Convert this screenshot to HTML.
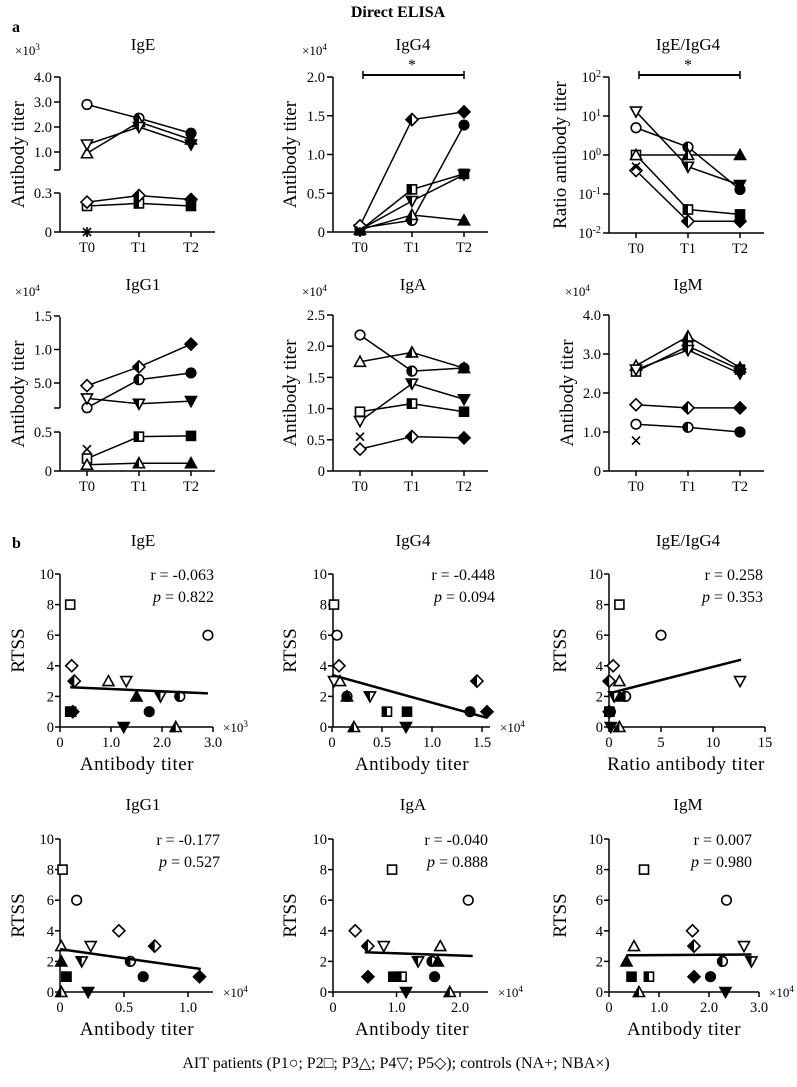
<!DOCTYPE html>
<html><head><meta charset="utf-8"><style>
html,body{margin:0;padding:0;background:#fff}
svg{display:block;font-family:"Liberation Serif",serif}
</style></head><body>
<svg id="fig" width="797" height="1087" viewBox="0 0 797 1087">
<text x="398" y="17" text-anchor="middle" font-weight="bold" font-size="16">Direct ELISA</text>
<text x="12" y="32" font-weight="bold" font-size="16">a</text>
<text x="12" y="548" font-weight="bold" font-size="16">b</text>
<text x="396" y="1068" text-anchor="middle" font-size="16">AIT patients (P1○; P2□; P3△; P4▽; P5◇); controls (NA+; NBA×)</text>
</svg>
<script>
// series order: P1 circle, P2 square, P3 triangle-up, P4 triangle-down, P5 diamond
const timeLabels = ['T0','T1','T2'];
const igeTime   = [[2.9,2.35,1.75],[0.2,0.22,0.2],[0.95,2.2,1.5],[1.3,2.0,1.3],[0.23,0.28,0.25]];
const igg4Time  = [[0.05,0.15,1.38],[0.02,0.55,0.75],[0.03,0.22,0.15],[0.03,0.4,0.74],[0.08,1.45,1.55]];
const ratioTime = [[5,1.6,0.13],[1,0.04,0.03],[1,1,1],[13,0.5,0.17],[0.4,0.02,0.02]];
const igg1Time  = [[0.13,0.55,0.65],[0.016,0.044,0.045],[0.008,0.01,0.01],[0.27,0.19,0.23],[0.46,0.74,1.08]];
const igaTime   = [[2.18,1.6,1.65],[0.95,1.08,0.95],[1.75,1.9,1.65],[0.8,1.4,1.15],[0.35,0.55,0.53]];
const igmTime   = [[1.2,1.12,1.0],[2.55,3.2,2.6],[2.7,3.45,2.65],[2.6,3.1,2.5],[1.7,1.62,1.62]];
const controlsNBA = {ige:0, igg4:0.02, ratio:0.5, igg1:0.028, iga:0.55, igm:0.78};
// RTSS per patient per timepoint
const rtss = [[6,2,1],[8,1,1],[3,0,2],[3,2,0],[4,3,1]];
const igeX   = [[2.9,2.35,1.75],[0.2,0.22,0.2],[0.95,2.27,1.5],[1.3,1.97,1.25],[0.23,0.28,0.25]];
const igg4X  = [[0.05,0.15,1.38],[0.02,0.55,0.75],[0.08,0.22,0.15],[0.02,0.38,0.74],[0.07,1.45,1.55]];
const ratioX = [[5,1.6,0.13],[1,0.04,0.03],[1,1,1],[12.6,0.5,0.17],[0.4,0.02,0.02]];
const igg1X  = [[0.13,0.55,0.65],[0.02,0.05,0.05],[0.01,0.01,0.01],[0.24,0.17,0.22],[0.46,0.74,1.09]];
const igaX   = [[2.13,1.56,1.6],[0.93,1.08,0.95],[1.69,1.84,1.65],[0.8,1.34,1.15],[0.35,0.55,0.55]];
const igmX   = [[2.35,2.27,2.03],[0.7,0.8,0.45],[0.5,0.6,0.35],[2.7,2.85,2.33],[1.67,1.7,1.7]];
const fitIge = [[0.2,2.6],[2.9,2.2]];
const fitIgg4 = [[0,3.4],[1.55,0.6]];
const fitRatio = [[0,2.2],[12.7,4.4]];
const fitIgg1 = [[0,2.8],[1.1,1.5]];
const fitIga = [[0.5,2.6],[2.2,2.35]];
const fitIgm = [[0.35,2.4],[2.85,2.45]];
const stats = [['-0.063','0.822'],['-0.448','0.094'],['0.258','0.353'],['-0.177','0.527'],['-0.040','0.888'],['0.007','0.980']];

const NS='http://www.w3.org/2000/svg';
const svg=document.getElementById('fig');
const shapes=['circle','square','triup','tridown','diamond'];
const names=['p1','p2','p3','p4','p5'];
const TF=14.5;
let clipId=0;
function el(tag,attrs,parent){const e=document.createElementNS(NS,tag);for(const k in attrs)e.setAttribute(k,attrs[k]);(parent||svg).appendChild(e);return e;}
function shapeEl(shape,cx,cy,parent,fill){
  let e;
  if(shape==='circle')e=el('circle',{cx:cx,cy:cy,r:4.8},parent);
  else if(shape==='square')e=el('rect',{x:cx-4.5,y:cy-4.5,width:9,height:9},parent);
  else if(shape==='triup')e=el('polygon',{points:`${cx},${cy-5.5} ${cx+5.5},${cy+4.5} ${cx-5.5},${cy+4.5}`},parent);
  else if(shape==='tridown')e=el('polygon',{points:`${cx},${cy+5.5} ${cx+5.5},${cy-4.5} ${cx-5.5},${cy-4.5}`},parent);
  else e=el('polygon',{points:`${cx},${cy-6} ${cx+6},${cy} ${cx},${cy+6} ${cx-6},${cy}`},parent);
  e.setAttribute('fill',fill);e.setAttribute('stroke','#000');e.setAttribute('stroke-width','1.6');
  return e;
}
function marker(shape,cx,cy,mode,name){
  const g=el('g',{});
  
  
  if(mode===0)shapeEl(shape,cx,cy,g,'#fff');
  else if(mode===2)shapeEl(shape,cx,cy,g,'#000');
  else{
    shapeEl(shape,cx,cy,g,'#fff');
    const id='hc'+(clipId++);
    const cp=el('clipPath',{id:id},g);el('rect',{x:cx-8,y:cy-8,width:8,height:16},cp);
    const h=shapeEl(shape,cx,cy,g,'#000');h.setAttribute('clip-path',`url(#${id})`);
  }
  return g;
}
function ctrl(type,cx,cy,name){
  const g=el('g',{stroke:'#000','stroke-width':1.6});
  
  
  if(type==='x'){el('line',{x1:cx-4,y1:cy-4,x2:cx+4,y2:cy+4},g);el('line',{x1:cx-4,y1:cy+4,x2:cx+4,y2:cy-4},g);}
  else{el('line',{x1:cx-5,y1:cy,x2:cx+5,y2:cy},g);el('line',{x1:cx,y1:cy-5,x2:cx,y2:cy+5},g);}
}
function line(x1,y1,x2,y2,w){return el('line',{x1,y1,x2,y2,stroke:'#000','stroke-width':w||1.5});}
function text(x,y,s,opts){const t=el('text',Object.assign({x,y,'font-size':TF},opts||{}));t.textContent=s;return t;}
function pow(x,y,base,exp,anchor,size){
  const t=el('text',{x,y,'font-size':size||12,'text-anchor':anchor||'start'});
  const a=el('tspan',{},t);a.textContent=base;
  const b=el('tspan',{dy:-5,'font-size':(size||12)*0.7},t);b.textContent=exp;
  return t;
}
function vtitle(x,y,s,name){const t=el('text',{x:0,y:0,'font-size':19,'text-anchor':'middle',transform:`translate(${x},${y}) rotate(-90)`});t.textContent=s;return t;}
function ptitle(x,y,s,name){const t=text(x,y,s,{'font-size':17,'text-anchor':'middle'});}

// ---------- time-course panels ----------
function timePanel(o){
  const ax=o.ax, bot=o.bot, tx=[ax+27,ax+79,ax+131];
  ptitle(o.tx,o.ty,o.title,o.key+'-title');
  o.segments.forEach(s=>{const l=line(ax,s[0],ax,s[1]);});
  o.ticks.forEach(t=>{const y=o.y(t[0]);line(ax-6,y,ax,y);
    if(o.log){pow(ax-8,y+5,'10',t[1],'end',TF);} else text(ax-8,y+5,t[1],{'text-anchor':'end'});});
  (o.extraTicks||[]).forEach(y=>line(ax-6,y,ax,y));
  const xa=line(ax,bot,ax+155,bot);
  tx.forEach((x,i)=>{line(x,bot,x,bot+5);text(x,bot+20,timeLabels[i],{'text-anchor':'middle'});});
  vtitle(o.vx,(o.segments[0][0]+bot)/2,o.ytitle,o.key+'-y-title');
  if(o.mult)pow(o.mult[0],o.mult[1],'×10',o.mult[2],'start',13);
  if(o.bracket){const by=o.bracket;line(tx[0]+3,by,tx[2],by,2);line(tx[0]+3,by-4,tx[0]+3,by+4);line(tx[2],by-4,tx[2],by+4);text((tx[0]+tx[2])/2,by-5,'*',{'text-anchor':'middle','font-size':16});}
  o.data.forEach((ser,si)=>{
    const pl=el('polyline',{points:ser.map((v,i)=>tx[i]+','+o.y(v)).join(' '),fill:'none',stroke:'#000','stroke-width':1.5});
    
    
  });
  o.data.forEach((ser,si)=>ser.forEach((v,i)=>marker(shapes[si],tx[i],o.y(v),i,o.key+'-point-'+names[si]+'-t'+i)));
  if(o.ctrl!==undefined)ctrl('x',tx[0],o.y(o.ctrl),o.key+'-control-nba');
  if(o.ctrlPlus!==undefined)ctrl('+',tx[0],o.y(o.ctrlPlus),o.key+'-control-na');
}
timePanel({key:'ige-time',title:'IgE',tx:143,ty:50,ax:60,bot:232,segments:[[77,170],[193,232]],extraTicks:[170],
  y:v=>v>=0.5?152-(v-1)*25:232-v/0.3*39,ticks:[[4,'4.0'],[3,'3.0'],[2,'2.0'],[1,'1.0'],[0.3,'0.3'],[0,'0']],
  ytitle:'Antibody titer',vx:24,mult:[15,55,'3'],data:igeTime,ctrl:controlsNBA.ige,ctrlPlus:0});
timePanel({key:'igg4-time',title:'IgG4',tx:413,ty:50,ax:333,bot:232,segments:[[77,232]],
  y:v=>232-v*77.5,ticks:[[2,'2.0'],[1.5,'1.5'],[1,'1.0'],[0.5,'0.5'],[0,'0']],
  ytitle:'Antibody titer',vx:296,mult:[302,55,'4'],data:igg4Time,bracket:75,ctrl:controlsNBA.igg4,ctrlPlus:0});
timePanel({key:'ratio-time',title:'IgE/IgG4',tx:688,ty:50,ax:609,bot:233,segments:[[77,233]],log:true,
  y:v=>233-(Math.log10(v)+2)*39,ticks:[[100,'2'],[10,'1'],[1,'0'],[0.1,'-1'],[0.01,'-2']],
  ytitle:'Ratio antibody titer',vx:566,data:ratioTime,bracket:75,ctrl:controlsNBA.ratio});
timePanel({key:'igg1-time',title:'IgG1',tx:143,ty:290,ax:60,bot:471,segments:[[317,408],[432,471]],extraTicks:[408],
  y:v=>v>=0.1?383-(v-0.5)*67:471-v/0.05*39,ticks:[[1.5,'1.5'],[1.0,'1.0'],[0.5,'5.0'],[0.05,'0.5'],[0,'0']],
  ytitle:'Antibody titer',vx:24,mult:[15,296,'4'],data:igg1Time,ctrl:controlsNBA.igg1});
timePanel({key:'iga-time',title:'IgA',tx:413,ty:290,ax:333,bot:471,segments:[[315,471]],
  y:v=>471-v*62.4,ticks:[[2.5,'2.5'],[2,'2.0'],[1.5,'1.5'],[1,'1.0'],[0.5,'0.5'],[0,'0']],
  ytitle:'Antibody titer',vx:296,mult:[302,296,'4'],data:igaTime,ctrl:controlsNBA.iga});
timePanel({key:'igm-time',title:'IgM',tx:688,ty:290,ax:609,bot:471,segments:[[315,471]],
  y:v=>471-v*39,ticks:[[4,'4.0'],[3,'3.0'],[2,'2.0'],[1,'1.0'],[0,'0']],
  ytitle:'Antibody titer',vx:573,mult:[565,296,'4'],data:igmTime,ctrl:controlsNBA.igm});

// ---------- scatter panels ----------
function scatterPanel(o){
  const ax=o.ax,bot=o.bot,top=bot-153;
  const y=v=>bot-v*15.3, x=v=>o.x0+v*o.sx;
  ptitle(o.tx,o.ty,o.title,o.key+'-title');
  const ya=line(ax,top,ax,bot);
  [0,2,4,6,8,10].forEach(v=>{line(ax-5,y(v),ax,y(v));text(ax-6,y(v)+5,String(v),{'text-anchor':'end'});});
  const xa=line(ax,bot,o.xend,bot);
  o.xticks.forEach(t=>{line(x(t[0]),bot,x(t[0]),bot+5);text(x(t[0]),bot+20,t[1],{'text-anchor':'middle'});});
  const xt=text(o.xtc,bot+43,o.xtitle,{'text-anchor':'middle','font-size':19,'letter-spacing':'0.5'});
  
  vtitle(o.vx,(top+bot)/2,'RTSS',o.key+'-y-title');
  if(o.mult)pow(o.xend+10,bot+5,'×10',o.mult,'start',13);
  const st=text(o.rx,top+6,'r = '+o.stat[0],{'text-anchor':'end','font-size':16});
  
  const pt=el('text',{x:o.rx,y:top+28,'font-size':16,'text-anchor':'end'});
  
  const pi=el('tspan',{'font-style':'italic'},pt);pi.textContent='p';
  const pr=el('tspan',{},pt);pr.textContent=' = '+o.stat[1];
  o.data.forEach((ser,si)=>ser.forEach((v,i)=>marker(shapes[si],x(v),y(rtss[si][i]),i,o.key+'-point-'+names[si]+'-t'+i)));
  const f=line(x(o.fit[0][0]),y(o.fit[0][1]),x(o.fit[1][0]),y(o.fit[1][1]),2.5);
  
}
scatterPanel({key:'ige-scatter',title:'IgE',tx:143,ty:546,ax:60,bot:727,x0:60,sx:51,xend:213,
  xticks:[[0,'0'],[1,'1.0'],[2,'2.0'],[3,'3.0']],xtitle:'Antibody titer',xtc:137,vx:24,mult:'3',rx:214,stat:stats[0],data:igeX,fit:fitIge});
scatterPanel({key:'igg4-scatter',title:'IgG4',tx:413,ty:546,ax:333,bot:727,x0:332,sx:100,xend:490,
  xticks:[[0,'0'],[0.5,'0.5'],[1,'1.0'],[1.5,'1.5']],xtitle:'Antibody titer',xtc:412,vx:296,mult:'4',rx:495,stat:stats[1],data:igg4X,fit:fitIgg4});
scatterPanel({key:'ratio-scatter',title:'IgE/IgG4',tx:688,ty:546,ax:609,bot:727,x0:609,sx:10.4,xend:765,
  xticks:[[0,'0'],[5,'5'],[10,'10'],[15,'15']],xtitle:'Ratio antibody titer',xtc:686,vx:566,rx:763,stat:stats[2],data:ratioX,fit:fitRatio});
scatterPanel({key:'igg1-scatter',title:'IgG1',tx:143,ty:810,ax:60,bot:992,x0:60,sx:128,xend:213,
  xticks:[[0,'0'],[0.5,'0.5'],[1,'1.0']],xtitle:'Antibody titer',xtc:137,vx:24,mult:'4',rx:220,stat:stats[3],data:igg1X,fit:fitIgg1});
scatterPanel({key:'iga-scatter',title:'IgA',tx:413,ty:810,ax:333,bot:992,x0:333,sx:63.5,xend:488,
  xticks:[[0,'0'],[1,'1.0'],[2,'2.0']],xtitle:'Antibody titer',xtc:412,vx:296,mult:'4',rx:488,stat:stats[4],data:igaX,fit:fitIga});
scatterPanel({key:'igm-scatter',title:'IgM',tx:688,ty:810,ax:609,bot:992,x0:609,sx:50,xend:759,
  xticks:[[0,'0'],[1,'1.0'],[2,'2.0'],[3,'3.0']],xtitle:'Antibody titer',xtc:684,vx:566,mult:'4',rx:752,stat:stats[5],data:igmX,fit:fitIgm});
</script>
</body></html>
